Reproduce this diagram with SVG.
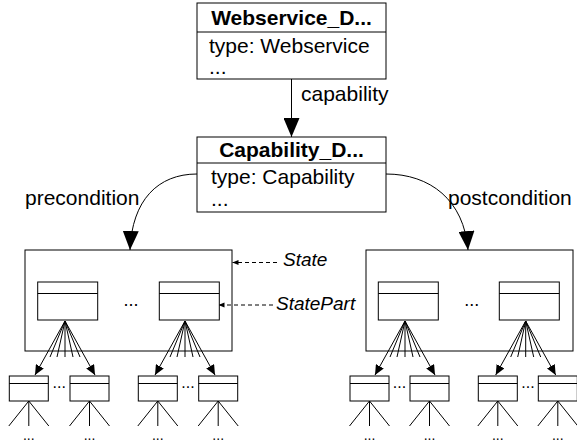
<svg xmlns="http://www.w3.org/2000/svg" width="577" height="444" viewBox="0 0 577 444">
  <style>
    .box { fill: #fff; stroke: #000; stroke-width: 1; }
    .div { stroke: #000; stroke-width: 1; }
    .ln { fill: none; stroke: #000; stroke-width: 1; }
    .dash { fill: none; stroke: #000; stroke-width: 1; stroke-dasharray: 4 3; }
    .t { font-family: "Liberation Sans", Arial, sans-serif; font-size: 21px; fill: #000; }
    .b { font-weight: bold; }
    .i { font-style: italic; font-size: 19px; }
    .dots { font-family: "Liberation Sans", Arial, sans-serif; fill: #000; text-anchor: middle; }
  </style>
  <defs>
    <marker id="big" markerUnits="userSpaceOnUse" markerWidth="19" markerHeight="16" refX="19" refY="8" orient="auto">
      <path d="M0,0 L19,8 L0,16 z" fill="#000"/>
    </marker>
    <marker id="small" markerUnits="userSpaceOnUse" markerWidth="10" markerHeight="9" refX="10" refY="4.5" orient="auto">
      <path d="M0,0 L10,4.5 L0,9 z" fill="#000"/>
    </marker>
    <marker id="tiny" markerUnits="userSpaceOnUse" markerWidth="6" markerHeight="6" refX="6" refY="3" orient="auto">
      <path d="M0,0.5 L6,3 L0,5.5 z" fill="#000"/>
    </marker>
    <!-- leaf part box with its three outgoing stubs and trailing dots -->
    <g id="leaf">
      <rect class="box" x="-19.5" y="376" width="39" height="25"/>
      <line class="div" x1="-19.5" y1="383.5" x2="19.5" y2="383.5"/>
      <path class="ln" d="M0,401 L-20,426 M0,401 L0,426 M0,401 L20,426"/>
      <text class="dots" x="0" y="440" font-size="14">...</text>
    </g>
    <!-- state part inside a state -->
    <g id="part">
      <rect class="box" x="0" y="282" width="60" height="38"/>
      <line class="div" x1="0" y1="293.5" x2="60" y2="293.5"/>
    </g>
    <!-- fan of references from a state part down to its children -->
    <g id="fan">
      <path class="ln" d="M0,321 L-15,357 M0,321 L-8,357 M0,321 L0,357 M0,321 L8,357 M0,321 L15,357"/>
      <line class="ln" x1="0" y1="321" x2="-30" y2="375" marker-end="url(#small)"/>
      <line class="ln" x1="0" y1="321" x2="30" y2="375" marker-end="url(#small)"/>
    </g>
  </defs>

  <g id="webservice">
    <rect class="box" x="197" y="3" width="189" height="76"/>
    <line class="div" x1="197" y1="32" x2="386" y2="32"/>
    <text class="t b" x="291.5" y="25" text-anchor="middle">Webservice_D...</text>
    <text class="t" x="209" y="53">type: Webservice</text>
    <text class="t" x="209" y="74">...</text>
  </g>

  <g id="capability">
    <rect class="box" x="197" y="137" width="189" height="75"/>
    <line class="div" x1="197" y1="163" x2="386" y2="163"/>
    <text class="t b" x="291.5" y="157" text-anchor="middle">Capability_D...</text>
    <text class="t" x="211" y="184">type: Capability</text>
    <text class="t" x="211" y="206">...</text>
  </g>

  <g id="pre-state">
    <rect class="box" x="25" y="250" width="207" height="101"/>
    <use href="#part" x="37.7"/>
    <use href="#part" x="159.3"/>
    <text class="dots" x="131" y="306" font-size="18">...</text>
  </g>

  <g id="post-state">
    <rect class="box" x="366" y="250" width="207" height="101"/>
    <use href="#part" x="378.3"/>
    <use href="#part" x="499.3"/>
    <text class="dots" x="471.7" y="306" font-size="18">...</text>
  </g>

  <g id="pre-leaves">
    <use href="#leaf" x="28.8"/>
    <use href="#leaf" x="89.5"/>
    <use href="#leaf" x="157.8"/>
    <use href="#leaf" x="218.2"/>
    <text class="dots" x="59.2" y="388" font-size="16">...</text>
    <text class="dots" x="188" y="388" font-size="16">...</text>
  </g>

  <g id="post-leaves">
    <use href="#leaf" x="369.5"/>
    <use href="#leaf" x="429.5"/>
    <use href="#leaf" x="497.8"/>
    <use href="#leaf" x="557.8"/>
    <text class="dots" x="399.5" y="388" font-size="16">...</text>
    <text class="dots" x="528" y="388" font-size="16">...</text>
  </g>

  <g id="legend">
    <text class="t i" x="283" y="266">State</text>
    <text class="t i" x="276" y="310">StatePart</text>
  </g>

  <g id="connectors">
    <line class="ln" x1="291.5" y1="79" x2="291.5" y2="137" marker-end="url(#big)"/>
    <text class="t" x="301" y="101">capability</text>

    <path class="ln" d="M197,174 C158,174 132,200 130,250" marker-end="url(#big)"/>
    <text class="t" x="25" y="205">precondition</text>

    <path class="ln" d="M386,174 C430,174 464,200 468,250" marker-end="url(#big)"/>
    <text class="t" x="448" y="205">postcondition</text>

    <use href="#fan" x="65"/>
    <use href="#fan" x="185"/>
    <use href="#fan" x="405"/>
    <use href="#fan" x="525.7"/>

    <line class="dash" x1="277" y1="262.5" x2="232.5" y2="262.5" marker-end="url(#tiny)"/>
    <line class="dash" x1="273" y1="305" x2="218.5" y2="305" marker-end="url(#tiny)"/>
  </g>
</svg>
